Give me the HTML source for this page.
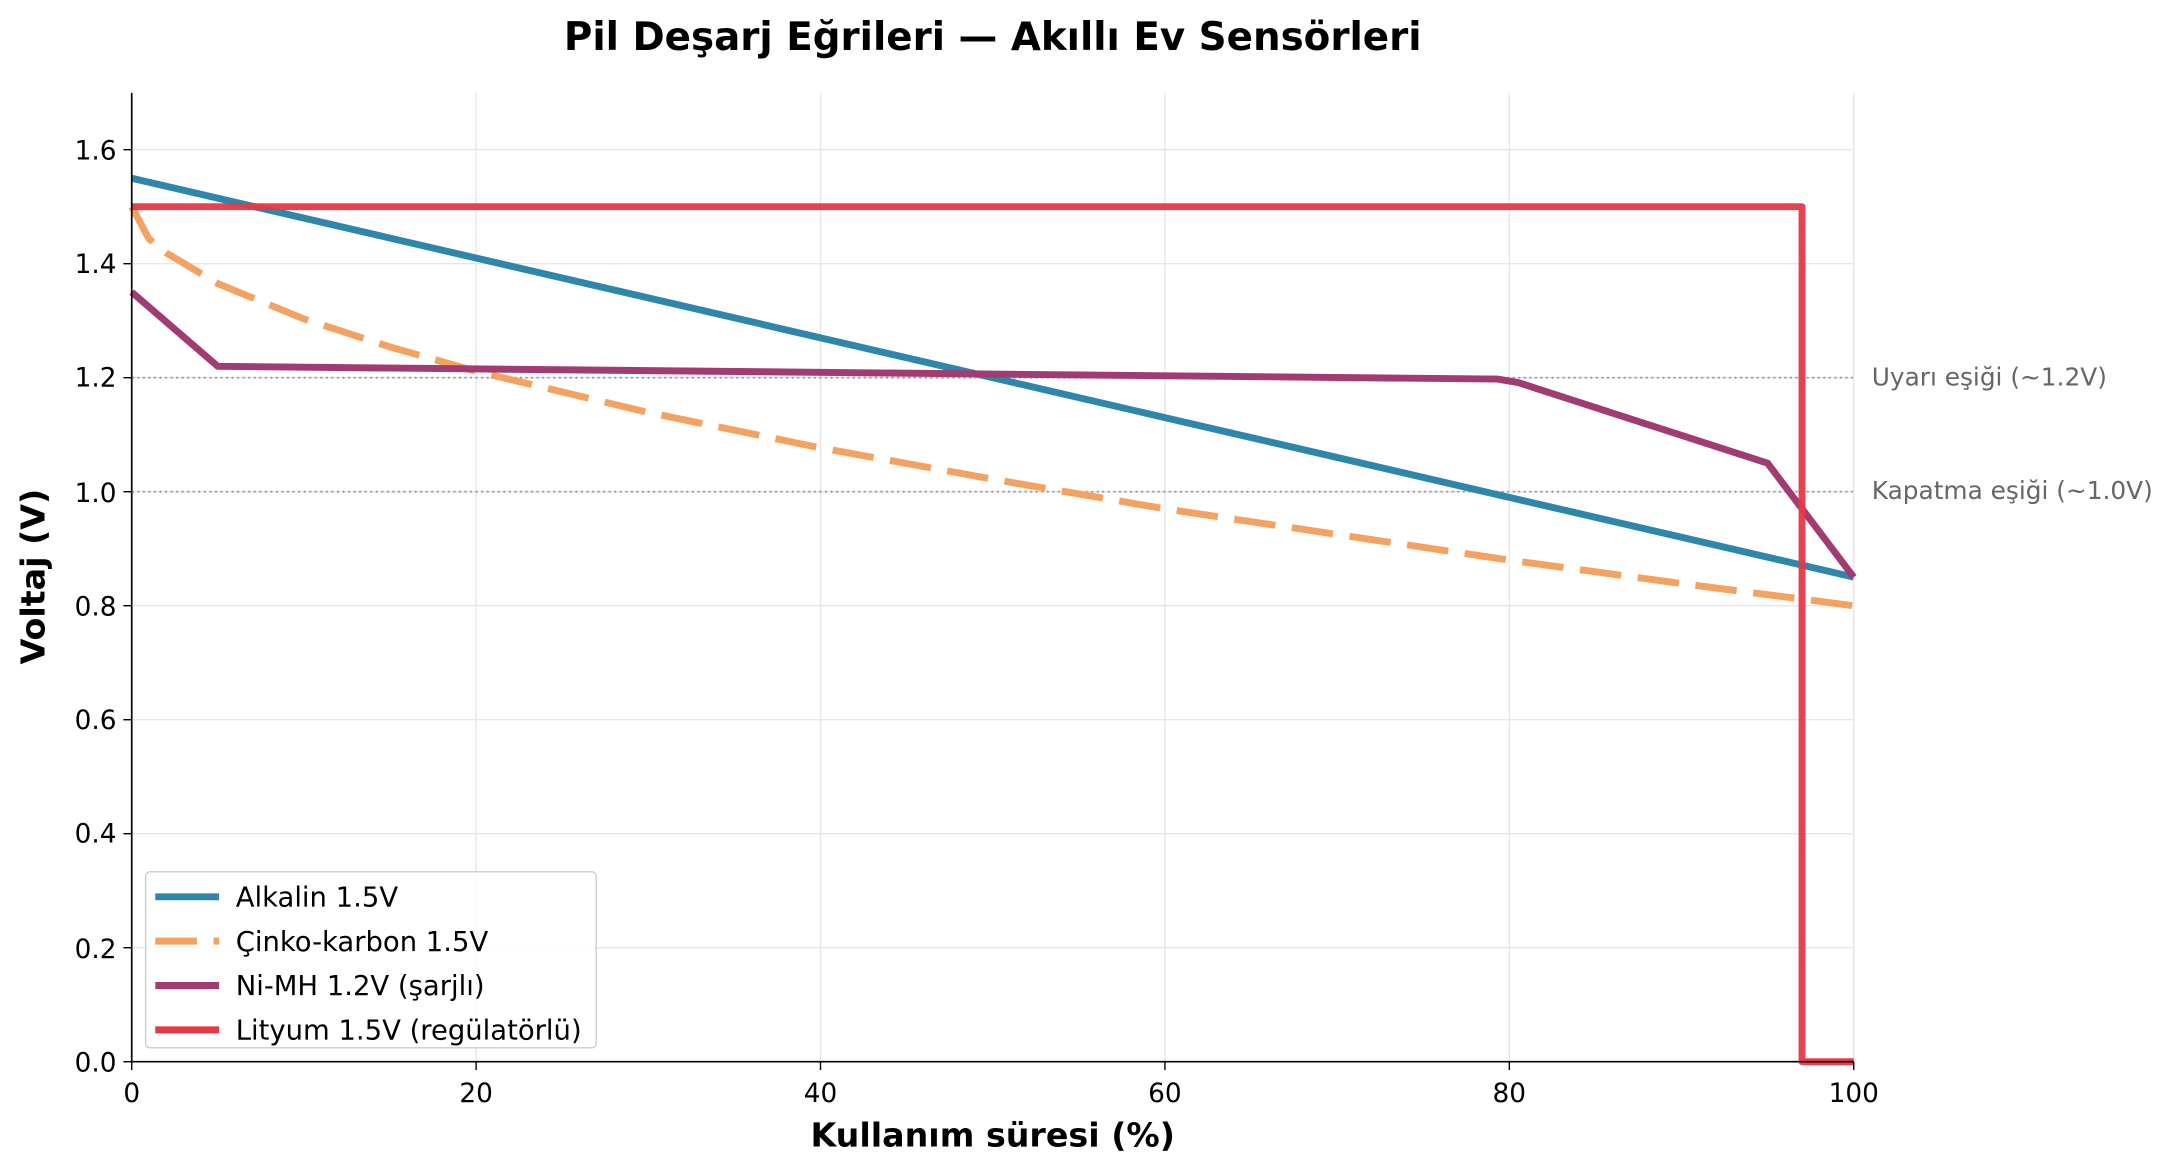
<!DOCTYPE html>
<html><head><meta charset="utf-8"><style>
html,body{margin:0;padding:0;background:#fff}
svg{display:block}
text{font-family:"DejaVu Sans","Liberation Sans",sans-serif}
</style></head><body>
<svg width="2174" height="1174" viewBox="0 0 1568 847" preserveAspectRatio="none" xmlns="http://www.w3.org/2000/svg">
<rect width="1568" height="847" fill="#fff"/>
<g stroke="#e6e6e6" stroke-width="1">
<line x1="343.4" y1="67" x2="343.4" y2="766"/>
<line x1="591.8" y1="67" x2="591.8" y2="766"/>
<line x1="840.2" y1="67" x2="840.2" y2="766"/>
<line x1="1088.6" y1="67" x2="1088.6" y2="766"/>
<line x1="1337" y1="67" x2="1337" y2="766"/>
<line x1="95" y1="683.75" x2="1337" y2="683.75"/>
<line x1="95" y1="601.5" x2="1337" y2="601.5"/>
<line x1="95" y1="519.25" x2="1337" y2="519.25"/>
<line x1="95" y1="437" x2="1337" y2="437"/>
<line x1="95" y1="354.75" x2="1337" y2="354.75"/>
<line x1="95" y1="272.5" x2="1337" y2="272.5"/>
<line x1="95" y1="190.25" x2="1337" y2="190.25"/>
<line x1="95" y1="108" x2="1337" y2="108"/>
</g>
<g stroke="#999" stroke-width="1.3" stroke-dasharray="1.5,2.5">
<line x1="95" y1="272.5" x2="1337" y2="272.5"/>
<line x1="95" y1="354.75" x2="1337" y2="354.75"/>
</g>
<g fill="none" stroke-width="5" stroke-linejoin="round">
<polyline stroke="#2e86ab" points="95,128.6 1337,416.4"/>
<polyline stroke="#f4a261" stroke-dasharray="30,12" points="95,149.1 107.4,172.2 119.8,182.4 157.1,204.6 219.2,230.1 281.3,250.3 343.4,267.9 467.6,297.6 591.8,323.1 716,345.7 840.2,367.1 964.4,385.6 1088.6,404.1 1212.8,421 1337,437"/>
<polyline stroke="#a23b72" points="95,210.8 157.1,264.3 1080,273.5 1095,276 1274.9,334.2 1337,416.4"/>
<polyline stroke="#e63946" stroke-opacity="0.95" points="95,149.1 1299.7,149.1 1299.7,766 1337,766"/>
</g>
<g stroke="#000" stroke-width="1.2">
<line x1="95" y1="67" x2="95" y2="766"/>
<line x1="95" y1="766" x2="1337" y2="766"/>
</g>
<g stroke="#000" stroke-width="1">
<line x1="95" y1="766" x2="95" y2="772"/><line x1="343.4" y1="766" x2="343.4" y2="772"/><line x1="591.8" y1="766" x2="591.8" y2="772"/><line x1="840.2" y1="766" x2="840.2" y2="772"/><line x1="1088.6" y1="766" x2="1088.6" y2="772"/><line x1="1337" y1="766" x2="1337" y2="772"/>
<line x1="89" y1="766" x2="95" y2="766"/><line x1="89" y1="683.75" x2="95" y2="683.75"/><line x1="89" y1="601.5" x2="95" y2="601.5"/><line x1="89" y1="519.25" x2="95" y2="519.25"/><line x1="89" y1="437" x2="95" y2="437"/><line x1="89" y1="354.75" x2="95" y2="354.75"/><line x1="89" y1="272.5" x2="95" y2="272.5"/><line x1="89" y1="190.25" x2="95" y2="190.25"/><line x1="89" y1="108" x2="95" y2="108"/>
</g>
<g font-size="19" fill="#000" text-anchor="middle">
<text x="95" y="795">0</text><text x="343.4" y="795">20</text><text x="591.8" y="795">40</text><text x="840.2" y="795">60</text><text x="1088.6" y="795">80</text><text x="1337" y="795">100</text>
</g>
<g font-size="19" fill="#000" text-anchor="end">
<text x="84" y="773">0.0</text><text x="84" y="691">0.2</text><text x="84" y="608">0.4</text><text x="84" y="526">0.6</text><text x="84" y="444">0.8</text><text x="84" y="362">1.0</text><text x="84" y="279">1.2</text><text x="84" y="197">1.4</text><text x="84" y="115">1.6</text>
</g>
<g font-size="17.9" fill="#666">
<text x="1350" y="278">Uyarı eşiği (~1.2V)</text>
<text x="1350" y="360">Kapatma eşiği (~1.0V)</text>
</g>
<text x="716" y="36" font-size="28" font-weight="bold" text-anchor="middle">Pil Deşarj Eğrileri — Akıllı Ev Sensörleri</text>
<text x="716" y="827" font-size="24" font-weight="bold" text-anchor="middle">Kullanım süresi (%)</text>
<text x="32" y="416" font-size="24" font-weight="bold" text-anchor="middle" transform="rotate(-90 32 416)">Voltaj (V)</text>
<rect x="105" y="629" width="325" height="127" rx="3" fill="#fff" fill-opacity="0.85" stroke="#ccc" stroke-width="1"/>
<g stroke-width="5">
<line x1="112" y1="647" x2="158" y2="647" stroke="#2e86ab"/>
<line x1="112" y1="679" x2="158" y2="679" stroke="#f4a261" stroke-dasharray="30,12"/>
<line x1="112" y1="711" x2="158" y2="711" stroke="#a23b72"/>
<line x1="112" y1="743" x2="158" y2="743" stroke="#e63946"/>
</g>
<g font-size="19.8" fill="#000">
<text x="170" y="654">Alkalin 1.5V</text>
<text x="170" y="686">Çinko-karbon 1.5V</text>
<text x="170" y="718">Ni-MH 1.2V (şarjlı)</text>
<text x="170" y="750">Lityum 1.5V (regülatörlü)</text>
</g>
</svg>
</body></html>
